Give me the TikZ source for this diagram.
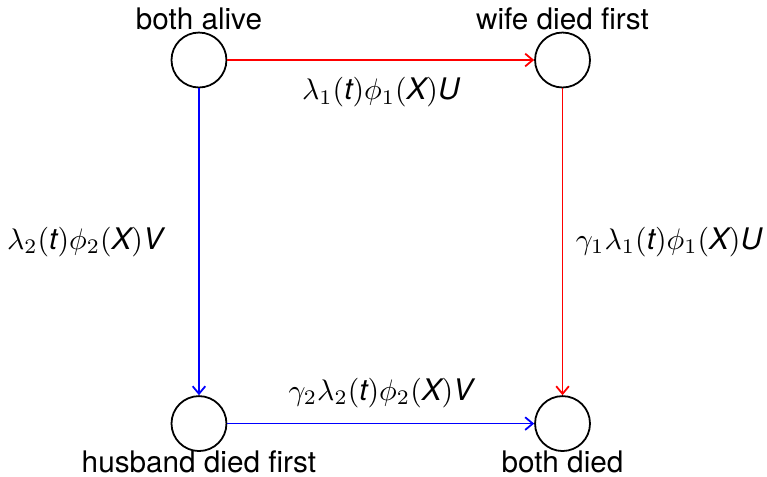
\documentclass[tikz,border=0pt]{standalone}
\usepackage{fontspec}
\setmainfont{TeX Gyre Heros}
\usepackage{tikz}
\usetikzlibrary{positioning,arrows.meta}
\tikzset{
  state-node/.style={draw=black,semithick,circle,minimum size=6.5mm,inner sep=0pt},
  arrow-wife/.style={-{Straight Barb[length=0.9mm,width=1.5mm]},line width=0.6pt,draw=red},
  arrow-husband/.style={-{Straight Barb[length=0.9mm,width=1.5mm]},line width=0.6pt,draw=blue},
}
\newcommand{\mi}[1]{\mathit{#1}}

\begin{document}
\begin{tikzpicture}[node distance=36.3mm and 36.3mm]
  \useasboundingbox (-2.354,-4.933) rectangle (6.72,0.71);
  \node[state-node,label={[label distance=-3pt]above:both alive}] (alive) at (0,0) {};
  \node[state-node,right=of alive,label={[label distance=-3pt]above:wife died first}] (wife) {};
  \node[state-node,below=of alive,label={[label distance=-4pt]below:husband died first}] (husband) {};
  \node[state-node,below=of wife,label={[label distance=-4pt]below:both died}] (dead) {};
  % transitions
  \draw[arrow-wife] (alive) -- node[below=0.8mm] {$\lambda_1(\mi{t})\phi_1(\mi{X})\mi{U}$} (wife);
  \draw[arrow-wife] (wife) -- node[right,xshift=0.3mm] {$\gamma_1\lambda_1(\mi{t})\phi_1(\mi{X})\mi{U}$} (dead);
  \draw[arrow-husband] (alive) -- node[left,xshift=-3mm] {$\lambda_2(\mi{t})\phi_2(\mi{X})\mi{V}$} (husband);
  \draw[arrow-husband] (husband) -- node[above=0.6mm] {$\gamma_2\lambda_2(\mi{t})\phi_2(\mi{X})\mi{V}$} (dead);
\end{tikzpicture}
\end{document}
